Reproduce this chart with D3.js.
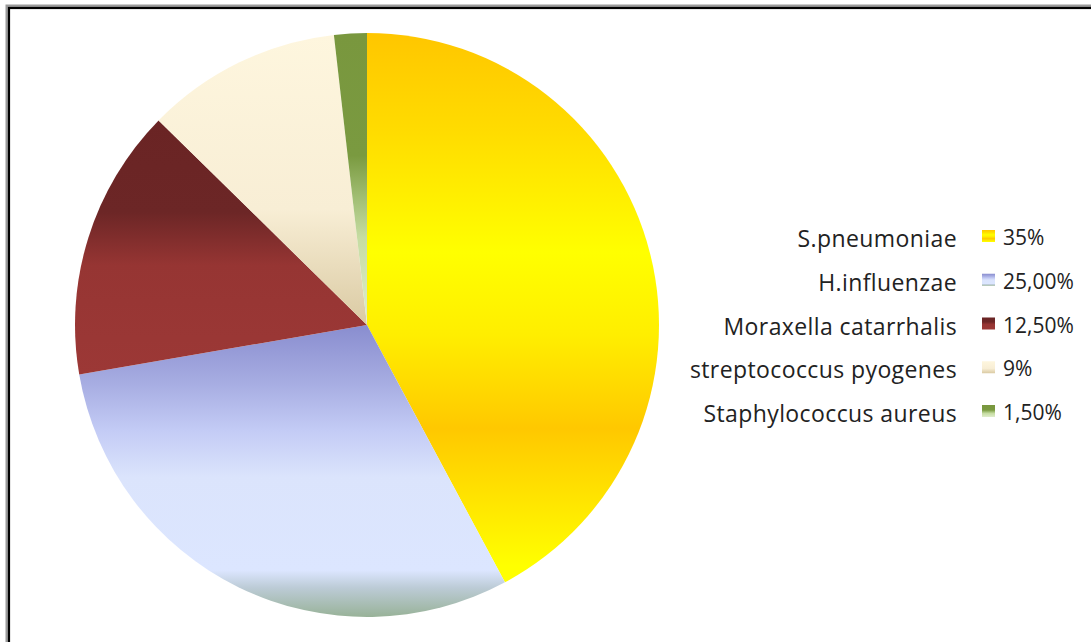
<!DOCTYPE html>
<html>
<head>
<meta charset="utf-8">
<script src="https://cdn.jsdelivr.net/npm/d3@7"></script>
<style>
  body { margin: 0; background: #fff; }
  svg { display: block; }
</style>
</head>
<body>
<div id="chart"></div>
<script>
// data
const categories = ["S.pneumoniae", "H.influenzae", "Moraxella catarrhalis", "streptococcus pyogenes", "Staphylococcus aureus"]
const values = [35, 25, 12.5, 9, 1.5]
const valueLabels = ["35%", "25,00%", "12,50%", "9%", "1,50%"]

// vertical gradient stops per slice (offset, colour)
const gradients = [
  [[0, "#ffc600"], [0.18, "#ffdc00"], [0.4, "#ffff00"], [0.55, "#ffee00"], [0.72, "#ffc800"], [0.97, "#ffff00"]],
  [[0, "#898dcf"], [0.2, "#a7ade2"], [0.36, "#c3cbf5"], [0.52, "#dbe4fc"], [0.84, "#dce6ff"], [0.9, "#bccbd6"], [1, "#98b298"]],
  [[0, "#6a2424"], [0.36, "#6c2626"], [0.57, "#963533"], [1, "#9c3836"]],
  [[0, "#fef6de"], [0.6, "#f8eed5"], [1, "#dacaa3"]],
  [[0, "#79973e"], [0.42, "#7a9a40"], [0.56, "#a0bd72"], [0.7, "#c6dca2"], [1, "#e0edcc"]]
]

const W = 1091, H = 642
const CX = 367, CY = 325, R = 292

const svg = d3.select("#chart").append("svg")
    .attr("width", W)
    .attr("height", H)

const defs = svg.append("defs")

gradients.forEach((stops, i) => {
    const g = defs.append("linearGradient")
        .attr("id", "grad" + i)
        .attr("x1", 0).attr("y1", 0)
        .attr("x2", 0).attr("y2", 1)
    stops.forEach(s => {
        g.append("stop").attr("offset", s[0]).attr("stop-color", s[1])
    })
})

// frame (shadow + black line), runs off the right and bottom
svg.append("rect")
    .attr("x", 7).attr("y", 6)
    .attr("width", W).attr("height", H)
    .attr("fill", "none")
    .attr("stroke", "#9a9a9a")
    .attr("stroke-width", 3)
svg.append("rect")
    .attr("x", 9).attr("y", 8)
    .attr("width", W).attr("height", H)
    .attr("fill", "none")
    .attr("stroke", "#000")
    .attr("stroke-width", 2.2)

// pie
const pie = d3.pie().sort(null).value(d => d)
const arc = d3.arc().innerRadius(0).outerRadius(R)

svg.append("g")
    .attr("transform", `translate(${CX}, ${CY})`)
  .selectAll("path")
  .data(pie(values))
  .enter().append("path")
    .attr("d", arc)
    .attr("fill", (d, i) => `url(#grad${i})`)

// legend
const rowY = d3.scalePoint()
    .domain(categories)
    .range([247, 422])

const legend = svg.append("g")

legend.selectAll("text.name")
  .data(categories)
  .enter().append("text")
    .attr("class", "name")
    .attr("x", 957)
    .attr("y", d => rowY(d))
    .attr("text-anchor", "end")
    .attr("font-family", "'Open Sans', sans-serif")
    .attr("font-size", 23)
    .attr("letter-spacing", 0.4)
    .attr("fill", "#222")
    .text(d => d)

legend.selectAll("rect")
  .data(categories)
  .enter().append("rect")
    .attr("x", 982)
    .attr("y", d => rowY(d) - 17)
    .attr("width", 13)
    .attr("height", 12)
    .attr("fill", (d, i) => `url(#grad${i})`)

legend.selectAll("text.val")
  .data(categories)
  .enter().append("text")
    .attr("class", "val")
    .attr("x", 1003)
    .attr("y", (d, i) => rowY(d) - 2)
    .attr("font-family", "'Open Sans', sans-serif")
    .attr("font-size", 21)
    .attr("fill", "#222")
    .text((d, i) => valueLabels[i])
</script>
</body>
</html>
